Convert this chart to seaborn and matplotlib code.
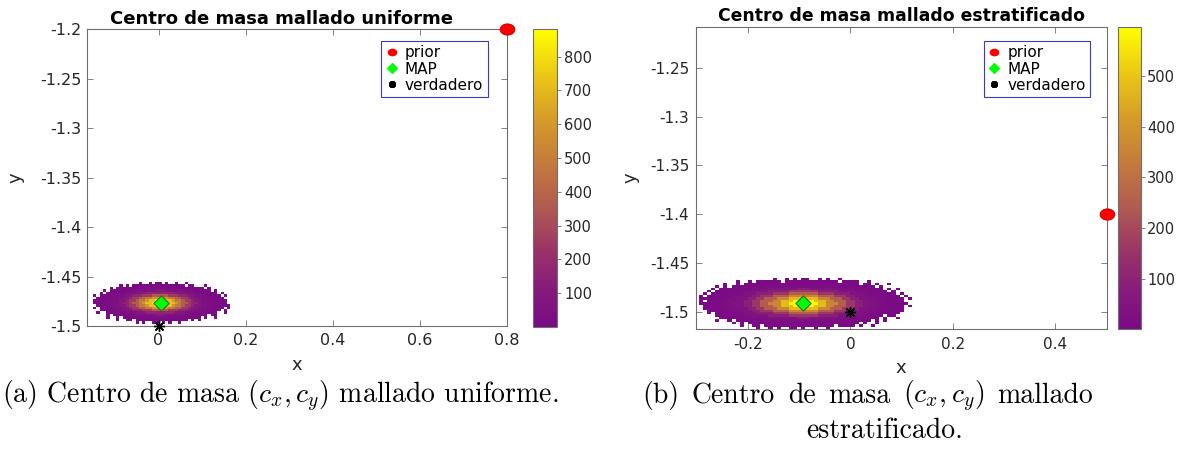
import numpy as np
import pandas as pd
import matplotlib
matplotlib.use("Agg")
import matplotlib.pyplot as plt
from matplotlib.colors import LinearSegmentedColormap
from matplotlib.lines import Line2D
from matplotlib.path import Path
from matplotlib.transforms import Affine2D
import seaborn as sns

sns.set_theme(style="white")
plt.rcParams["font.family"] = ["DejaVu Sans"]
plt.rcParams["axes.unicode_minus"] = False
plt.rcParams["mathtext.fontset"] = "cm"

# ---------------------------------------------------------------- data
# Count levels used to encode the 2D histogram rows ('.' = empty bin)
level_codes = list(".abcdefghijklm")
level_counts = [0, 2, 8, 20, 45, 90, 160, 250, 360, 480, 590, 720, 820, 875]

# Uniform mesh: histogram of the centre of mass (cx, cy); rows top -> bottom
uni_x0, uni_dx = -0.150, 0.0075
uni_y0, uni_dy = -1.4978, 0.0025
uni_rows = [
    "..............a..a.aa.a..a..a.............",
    "........a.a.aaaabbbbbbbbbaaa.aa...a.......",
    ".....a.aaabbbbbcccccccccccbbbbbaaa.a......",
    "...a.aabbbcccddddddeeeddddddcccbbbaa.a....",
    "..a.abbbccdddeeefffffffffeeedddccbbbaa.a..",
    "a.aabbccddeefffggghhhhhgggfffeeddccbbaa.a.",
    ".aabbccddeefgghhiijjjjjiihhggfeeddccbbaa..",
    "aabbccddeefgghiijkklllkkjiihggfeeddccbbaa.",
    "aabbccddeffghhijkklmmmlkkjihhgffeddccbbaa.",
    ".abbccddeefgghiijkklllkkjiihggfeeddccbbaaa",
    "a.abbccddeefgghhiijjjjjiihhggfeeddccbbaa.a",
    "..aabbccddeefffggghhhhhgggfffeeddccbbaa.a.",
    ".a..abbbccdddeeefffffffffeeedddccbbbaa..a.",
    "....a.abbbcccddddddeeeddddddcccbbba.aa....",
    "....a..a.abbbbbcccccccccccbbbbbaa.a..a....",
    ".......a..aa.aaabbbbbbbbbaaaa.a.a.........",
    ".............a.a..aa.a.a..a...............",
]
uni_prior = (0.8, -1.2)
uni_map = (0.006, -1.4765)
uni_true = (0.0, -1.5)
uni_xlim = (-0.165, 0.8)
uni_ylim = (-1.5, -1.2)
uni_clim = (1, 881)
uni_xticks = [0, 0.2, 0.4, 0.6, 0.8]
uni_xticklabels = ["0", "0.2", "0.4", "0.6", "0.8"]
uni_yticks = [-1.5, -1.45, -1.4, -1.35, -1.3, -1.25, -1.2]
uni_yticklabels = ["-1.5", "-1.45", "-1.4", "-1.35", "-1.3", "-1.25", "-1.2"]
uni_cticks = [100, 200, 300, 400, 500, 600, 700, 800]

# Stratified mesh
est_x0, est_dx = -0.296, 0.008
est_y0, est_dy = -1.51775, 0.0025
est_rows = [
    "..................a..a.a.aa..a.a..a.................",
    ".........a..a.aaaaaa.aabbbbbbbaaaa.aaaa..a..........",
    "......a..a.aaaabbbbbbbbbbbbbbbbbbbbbaaa.aa.a..a.....",
    "....a.a.aaabbbbbcccccccccccccccccccbbbbbaaa.a.......",
    "...a.aaaabbbbccccdddddddeeedddddddccccbbbbaaa.a.a...",
    "..a.aaabbbcccddddeeeeefffffffeeeeeddddcccbbbaa.a....",
    ".a.aaabbbccdddeeeeffffgggggggffffeeeedddccbbbaaa.a..",
    "a.aaabbbccdddeefffgggghhhhhhhggggfffeedddccbbbaaa.a.",
    "aaaabbbccdddeeffggghhhiiiiiiihhhgggffeedddccbbbaaa.a",
    "a.aabbcccddeeffggghhiiijjjjjiiihhgggffeeddcccbbaaa..",
    "aaabbbccdddeeffgghhhiijjjjjjjiihhhggffeedddccbbbaaa.",
    ".aaabbcccddeeffggghhiiijjjjjiiihhgggffeeddcccbbaaa.a",
    ".aaabbbccdddeeffggghhhiiiiiiihhhgggffeedddccbbbaaa..",
    "..aaabbbccdddeefffgggghhhhhhhggggfffeedddccbbbaaaa..",
    "..a.aabbbccdddeeeeffffgggggggffffeeeedddccbbbaaaa...",
    "....aaabbbcccddddeeeeefffffffeeeeeddddcccbbba.aa....",
    ".....aaaabbbbccccdddddddeeedddddddccccbbbbaa.a..a...",
    "....a..a.aabbbbbcccccccccccccccccccbbbbbaa.a.a......",
    "........a.a.aaabbbbbbbbbbbbbbbbbbbbbaaa.a..a........",
    "..........a..aa.aaaaaabbbbbbbaaaa.aaaa.a..a.........",
    "..............a..a.a..aa.a..a..a....................",
]
est_prior = (0.5, -1.4)
est_map = (-0.092, -1.4914)
est_true = (0.0, -1.5)
est_xlim = (-0.302, 0.5)
est_ylim = (-1.518, -1.208)
est_clim = (1, 597)
est_xticks = [-0.2, 0, 0.2, 0.4]
est_xticklabels = ["-0.2", "0", "0.2", "0.4"]
est_yticks = [-1.5, -1.45, -1.4, -1.35, -1.3, -1.25]
est_yticklabels = ["-1.5", "-1.45", "-1.4", "-1.35", "-1.3", "-1.25"]
est_cticks = [100, 200, 300, 400, 500]

titles = ["Centro de masa mallado uniforme", "Centro de masa mallado estratificado"]
legend_labels = ["prior", "MAP", "verdadero"]
caption_a = "(a) Centro de masa $(c_x, c_y)$ mallado uniforme."
caption_b_line1 = ["(b)", "Centro", "de", "masa", "$(c_x, c_y)$", "mallado"]
caption_b_line2 = "estratificado."

# ---------------------------------------------------------------- style
W, H = 1178, 455
fig = plt.figure(figsize=(W / 100, H / 100), dpi=100)
fig.patch.set_facecolor("white")

cmap = LinearSegmentedColormap.from_list(
    "purple_yellow",
    [(0.00, "#7a0a85"), (0.12, "#861a7c"), (0.25, "#9a3268"),
     (0.40, "#b05a52"), (0.55, "#c47a3c"), (0.70, "#d69c28"),
     (0.85, "#ebc915"), (1.00, "#ffff00")],
)

ellipse = Affine2D().scale(1.32, 1.0).transform_path(Path.unit_circle())
diamond = Path([(0, 1), (1, 0), (0, -1), (-1, 0), (0, 1)],
               [Path.MOVETO, Path.LINETO, Path.LINETO, Path.LINETO, Path.CLOSEPOLY])
asterisk = (8, 2, 0)

spine_col = "#6e6e6e"
text_col = "#262626"


def px_box(left, top, right, bottom):
    return [left / W, 1 - bottom / H, (right - left) / W, (bottom - top) / H]


def hist_table(rows, x0, dx, y0, dy):
    ncol = len(rows[0])
    bad = [i for i, r in enumerate(rows) if len(r) != ncol]
    if bad:
        raise ValueError(f"row lengths differ: {[(i, len(rows[i])) for i in bad]} vs {ncol}")
    lut = dict(zip(level_codes, level_counts))
    nrow = len(rows)
    recs = []
    for i, row in enumerate(rows):
        yc = y0 + (nrow - 1 - i + 0.5) * dy
        for j, ch in enumerate(row):
            c = lut[ch]
            if c > 0:
                recs.append((x0 + (j + 0.5) * dx, yc, c))
    df = pd.DataFrame(recs, columns=["cx", "cy", "count"])
    xedges = x0 + dx * np.arange(ncol + 1)
    yedges = y0 + dy * np.arange(nrow + 1)
    return df, xedges, yedges


def draw_panel(ax, cax, rows, x0, dx, y0, dy, clim, prior, mapp, true,
               xlim, ylim, xt, xtl, yt, ytl, ct, title, title_x, title_fs,
               title_pad, tick_fs, xpad, ypad, cpad, xlab_y, ylab_x, legend_xy):
    df, xe, ye = hist_table(rows, x0, dx, y0, dy)
    sns.histplot(data=df, x="cx", y="cy", weights="count", bins=(xe, ye),
                 cmap=cmap, vmin=clim[0], vmax=clim[1], cbar=True,
                 cbar_ax=cax, ax=ax)

    ax.plot(*prior, ls="none", marker=ellipse, ms=10.5, mfc="#ff0000",
            mec="#d00000", mew=0.8, clip_on=False, zorder=6)
    ax.plot(*mapp, ls="none", marker=diamond, ms=11, mfc="#00ff00",
            mec="#2a6a2a", mew=0.8, clip_on=False, zorder=6)
    ax.plot(*true, ls="none", marker=asterisk, ms=8, mec="black",
            mew=1.0, clip_on=False, zorder=6)

    ax.set_xlim(*xlim)
    ax.set_ylim(*ylim)
    ax.set_xticks(xt, xtl)
    ax.set_yticks(yt, ytl)
    ax.tick_params(direction="in", length=4, width=0.6, color=spine_col,
                   labelcolor=text_col, labelsize=tick_fs, top=True, right=True,
                   bottom=True, left=True)
    ax.tick_params(axis="x", pad=xpad)
    ax.tick_params(axis="y", pad=ypad)
    for s in ax.spines.values():
        s.set_color(spine_col)
        s.set_linewidth(0.8)
        s.set_visible(True)
    ax.set_facecolor("white")

    ax.set_xlabel("x", fontsize=13, color=text_col)
    ax.set_ylabel("y", fontsize=13, color=text_col)
    ax.xaxis.set_label_coords(0.5, xlab_y)
    ax.yaxis.set_label_coords(ylab_x, 0.5)
    ax.set_title(title, fontsize=title_fs, fontweight="bold", color="black",
                 x=title_x, pad=title_pad)

    cax.set_yticks(ct, [str(v) for v in ct])
    cax.tick_params(axis="y", direction="out", length=3, width=0.6,
                    color=spine_col, labelcolor=text_col, labelsize=10.5,
                    pad=cpad, right=True, left=False)
    for s in cax.spines.values():
        s.set_color(spine_col)
        s.set_linewidth(0.8)

    handles = [
        Line2D([], [], ls="none", marker=ellipse, ms=6, mfc="#ff0000", mec="#ff0000"),
        Line2D([], [], ls="none", marker=diamond, ms=7, mfc="#00ff00", mec="#00ff00"),
        Line2D([], [], ls="none", marker=asterisk, ms=5, mec="black", mew=1.8),
    ]
    leg = ax.legend(handles, legend_labels, loc="upper left",
                    bbox_to_anchor=(legend_xy[0] / W, 1 - legend_xy[1] / H),
                    bbox_transform=fig.transFigure, borderaxespad=0,
                    fontsize=11, frameon=True, fancybox=False, framealpha=1,
                    edgecolor="#3838d0", borderpad=0.3, handlelength=0.8,
                    handletextpad=0.45, labelspacing=0.08)
    leg.get_frame().set_linewidth(0.8)
    for t in leg.get_texts():
        t.set_color("black")


ax_a = fig.add_axes(px_box(86.7, 29.3, 506.7, 326))
cax_a = fig.add_axes(px_box(532.7, 29.3, 556.7, 326.7))
ax_b = fig.add_axes(px_box(695.7, 26.7, 1106.7, 329.3))
cax_b = fig.add_axes(px_box(1117.7, 26.7, 1141, 329.3))

draw_panel(ax_a, cax_a, uni_rows, uni_x0, uni_dx, uni_y0, uni_dy, uni_clim,
           uni_prior, uni_map, uni_true, uni_xlim, uni_ylim, uni_xticks,
           uni_xticklabels, uni_yticks, uni_yticklabels, uni_cticks,
           titles[0], 0.465, 13, 3.7, 11.5, 5.0, 3.6, 2.4, -0.100, -0.147,
           (381, 40.7))
draw_panel(ax_b, cax_b, est_rows, est_x0, est_dx, est_y0, est_dy, est_clim,
           est_prior, est_map, est_true, est_xlim, est_ylim, est_xticks,
           est_xticklabels, est_yticks, est_yticklabels, est_cticks,
           titles[1], 0.5, 12.4, 4.2, 11, 5.6, 4.6, 1.5, -0.097, -0.137,
           (983.5, 40.7))

# ---------------------------------------------------------------- captions
cap_kw = dict(family="cmr10", fontsize=20, color="black", va="center")
fig.text(2 / W, 1 - 396 / H, caption_a, ha="left", **cap_kw)

# first line of caption (b) is justified between its margins
renderer = fig.canvas.get_renderer()
words = [fig.text(0, 1 - 396 / H, w, ha="left", **cap_kw) for w in caption_b_line1]
widths = [t.get_window_extent(renderer).width for t in words]
x_left, x_right = 642, 1093
gap = (x_right - x_left - sum(widths)) / (len(words) - 1)
xpos = x_left
for t, w in zip(words, widths):
    t.set_x(xpos / W)
    xpos += w + gap
fig.text(885 / W, 1 - 431 / H, caption_b_line2, ha="center", **cap_kw)

fig.savefig("out.png", dpi=100, facecolor="white")
